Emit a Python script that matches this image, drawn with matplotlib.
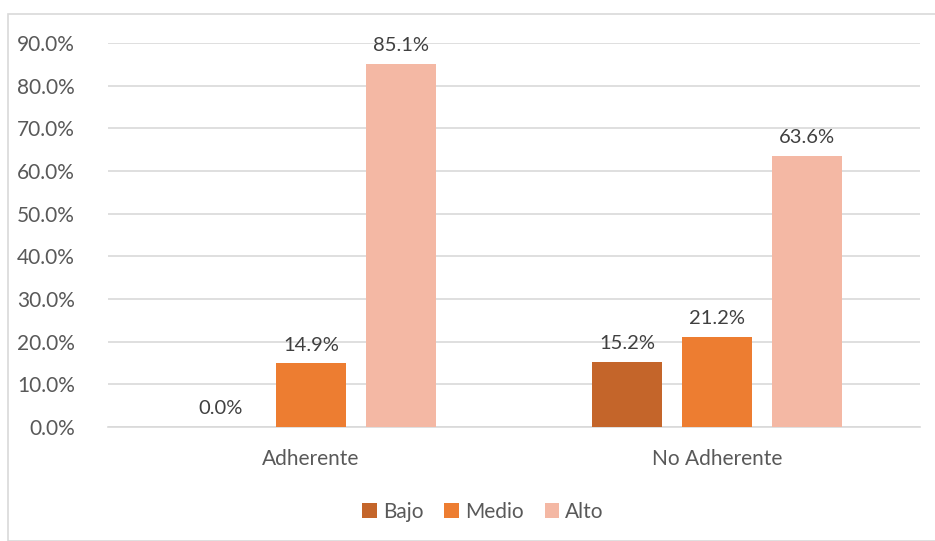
import matplotlib.pyplot as plt
import numpy as np
from matplotlib.patches import Rectangle

plt.rcParams['font.family'] = ['Lato', 'DejaVu Sans']

categories = ['Adherente', 'No Adherente']
series = ['Bajo', 'Medio', 'Alto']
values = {
    'Bajo': [0.0, 15.2],
    'Medio': [14.9, 21.2],
    'Alto': [85.1, 63.6],
}
colors = ['#C4652A', '#ED7D31', '#F4B8A4']
text_color = '#595959'

fig = plt.figure(figsize=(9.35, 5.41), dpi=100)
fig.patches.append(Rectangle((8/935, 0), 1, 1 - 14/541, transform=fig.transFigure,
                             fill=False, edgecolor='#D9D9D9', linewidth=1.2))
ax = fig.add_axes([108/935, 1 - 427/541, 812/935, (427 - 43)/541])

x = np.arange(len(categories))
width = 70/406
step = 90/406
for i, s in enumerate(series):
    pos = x + (i - 1) * step
    ax.bar(pos, values[s], width, color=colors[i], label=s, zorder=3)
    for xp, v in zip(pos, values[s]):
        ax.text(xp, v + 2.3, f'{v:.1f}%', ha='center', va='bottom',
                fontsize=14.5, color='#404040')

ax.set_xlim(-0.5, 1.5)
ax.set_ylim(0, 90)
ax.set_yticks(np.arange(0, 91, 10))
ax.set_yticklabels([f'{t:.1f}%' for t in np.arange(0, 91, 10)])
ax.set_xticks(x)
ax.set_xticklabels(categories)
ax.grid(axis='y', color='#D9D9D9', linewidth=1.2, zorder=0)
for sp in ['top', 'right', 'left']:
    ax.spines[sp].set_visible(False)
ax.spines['bottom'].set_color('#D9D9D9')
ax.spines['bottom'].set_linewidth(1.2)
ax.tick_params(axis='both', length=0, labelsize=15, colors=text_color)
ax.tick_params(axis='y', pad=24)
ax.tick_params(axis='x', pad=16)

ax.legend(loc='center', bbox_to_anchor=(483/935, 1 - 512/541), bbox_transform=fig.transFigure,
          ncol=3, frameon=False, fontsize=15, handlelength=0.7, handleheight=0.7,
          handletextpad=0.3, columnspacing=1.0, labelcolor=text_color)

fig.savefig('out.png', dpi=100)
